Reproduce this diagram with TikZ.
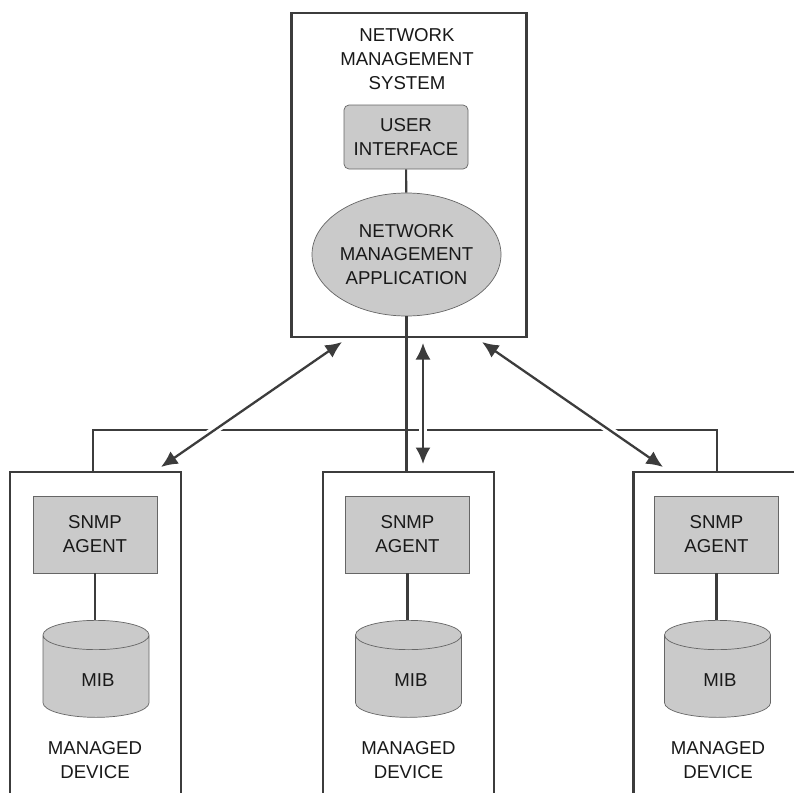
\documentclass[tikz,border=0pt]{standalone}
\usepackage{fontspec}
\setmainfont{Liberation Sans}
\usetikzlibrary{shapes.geometric, arrows.meta}
\definecolor{lineGray}{HTML}{3C3C3C}
\definecolor{boxGray}{HTML}{CACACA}
\begin{document}
\begin{tikzpicture}[x=0.2mm, y=-0.2mm, font=\fontsize{10.6}{13.6}\selectfont]
		\tikzstyle{System} = [rectangle, minimum width=47mm, minimum height=64.8mm, draw=lineGray, line width=1.6pt, fill=white]
		\tikzstyle{Device} = [rectangle, minimum width=34.2mm, minimum height=70mm, draw=lineGray, line width=1.4pt, fill=white]
		\tikzstyle{Agent} = [rectangle, minimum width=24.8mm, minimum height=15.4mm, align=center, text=black!90, draw=black!60, fill=boxGray]
		\tikzstyle{UserBox} = [rectangle, rounded corners=1mm, minimum width=24.8mm, minimum height=12.8mm, align=center, text=black!90, draw=black!60, fill=boxGray]
		\tikzstyle{AppBox} = [ellipse, minimum width=37.8mm, minimum height=24.6mm, inner sep=0pt, align=center, text=black!90, draw=black!60, fill=boxGray]
		\tikzstyle{MibBox} = [cylinder, shape border rotate=90, aspect=2.5, minimum width=21.2mm, minimum height=19.4mm, anchor=north, draw=black!60, fill=boxGray]
		\tikzstyle{Label} = [align=center, text=black!90]
		\tikzstyle{link} = [lineGray, line width=1.2pt]
		\tikzstyle{arrow} = [lineGray, line width=1.3pt, {Latex[length=3.3mm,width=3mm]}-{Latex[length=3.3mm,width=3mm]}]
		\tikzstyle{halo} = [white, line width=4.6pt]

		\useasboundingbox (0,0) rectangle (794,792);
		\clip (0,0) rectangle (794,792);

		\node (system) [System] at (409,175) {};
		\node (sysLabel) [Label] at (407,59) {NETWORK\\MANAGEMENT\\SYSTEM};
		\node (userIf) [UserBox] at (406,137) {USER\\INTERFACE};
		\node (netApp) [AppBox] at (406.5,254.5) {NETWORK\\MANAGEMENT\\APPLICATION};

		\node (device1) [Device] at (95.5,647) {};
		\node (device2) [Device] at (408.5,647) {};
		\node (device3) [Device] at (719,647) {};

		\node (agent1) [Agent] at (95,534.5) {SNMP\\AGENT};
		\node (agent2) [Agent] at (407.5,534.5) {SNMP\\AGENT};
		\node (agent3) [Agent] at (716.5,534.5) {SNMP\\AGENT};
		\node (mib1) [MibBox] at (96,620) {};
		\node (mib2) [MibBox] at (408.5,620) {};
		\node (mib3) [MibBox] at (717.5,620) {};
		\node (mibLabel1) [Label] at (98,680) {MIB};
		\node (mibLabel2) [Label] at (411,680) {MIB};
		\node (mibLabel3) [Label] at (720,680) {MIB};
		\node (devLabel1) [Label] at (95,760) {MANAGED\\DEVICE};
		\node (devLabel2) [Label] at (408.5,760) {MANAGED\\DEVICE};
		\node (devLabel3) [Label] at (718,760) {MANAGED\\DEVICE};

		\coordinate (busLeft) at (93,430);
		\coordinate (busRight) at (717,430);
		\coordinate (sysLeft) at (342,342);
		\coordinate (sysMid) at (423,343);
		\coordinate (sysRight) at (482,342);
		\coordinate (devLeft) at (161,467);
		\coordinate (devMid) at (423,464);
		\coordinate (devRight) at (663,467);

		\draw [link] (userIf) -- (netApp);
		\draw [link] (agent1.south) -- (agent1.south |- mib1.north);
		\draw [link] (agent2.south) -- (agent2.south |- mib2.north);
		\draw [link] (agent3.south) -- (agent3.south |- mib3.north);
		\draw [link] (device1.north -| busLeft) -- (busLeft) -- (busRight) -- (device3.north -| busRight);
		\draw [link] (netApp.south) -- (device2.north -| netApp.south);

		\draw [halo] (sysLeft) -- (devLeft);
		\draw [halo] (sysMid) -- (devMid);
		\draw [halo] (sysRight) -- (devRight);
		\draw [arrow] (sysLeft) -- (devLeft);
		\draw [arrow] (sysMid) -- (devMid);
		\draw [arrow] (sysRight) -- (devRight);
		\end{tikzpicture}
\end{document}
